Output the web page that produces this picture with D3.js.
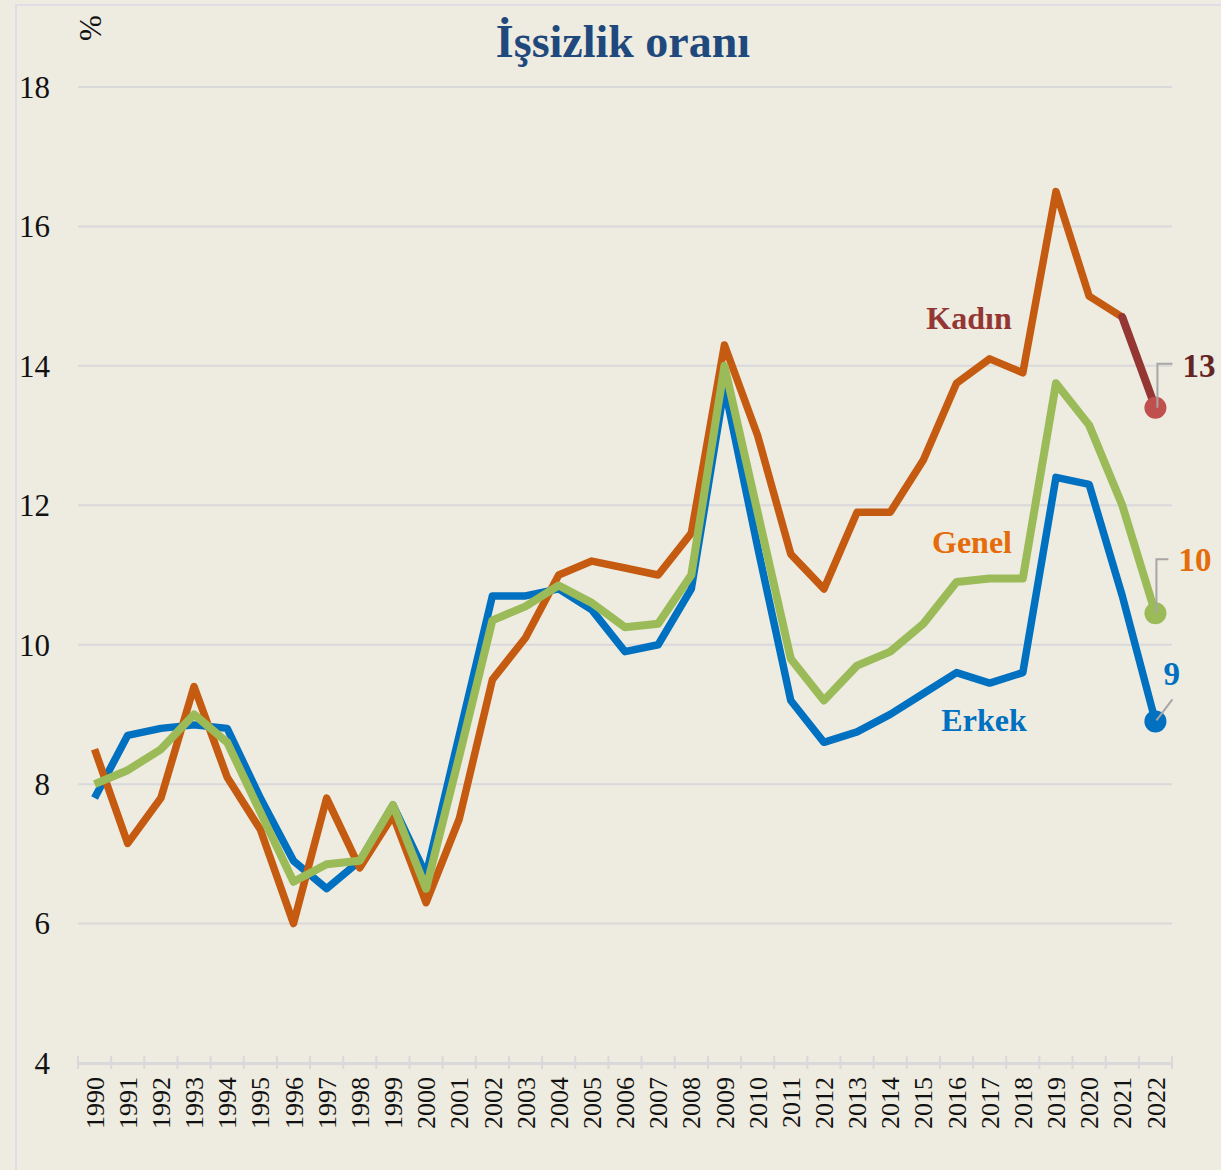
<!DOCTYPE html>
<html>
<head>
<meta charset="utf-8">
<script src="https://cdn.jsdelivr.net/npm/d3@7"></script>
<style>
  body { margin: 0; background: #EEEBE0; }
  svg { display: block; }
</style>
</head>
<body>
<script>
// unemployment rate, Turkey 1990-2022
var years = d3.range(1990, 2023);

var erkek = [7.8, 8.7, 8.8, 8.85, 8.8, 7.8, 6.9, 6.5, 6.9, 7.7, 6.7, 8.7, 10.7, 10.7, 10.8, 10.5, 9.9, 10.0, 10.8, 13.7,
             11.4, 9.2, 8.6, 8.75, 9.0, 9.3, 9.6, 9.45, 9.6, 12.4, 12.3, 10.7, 8.9];
var kadin = [8.5, 7.15, 7.8, 9.4, 8.1, 7.35, 6.0, 7.8, 6.8, 7.55, 6.3, 7.5, 9.5, 10.1, 11.0, 11.2, 11.1, 11.0, 11.6, 14.3,
             13.0, 11.3, 10.8, 11.9, 11.9, 12.65, 13.75, 14.1, 13.9, 16.5, 15.0, 14.7, 13.4];
var genel = [8.0, 8.2, 8.5, 9.0, 8.6, 7.6, 6.6, 6.85, 6.9, 7.7, 6.5, 8.4, 10.35, 10.55, 10.85, 10.6, 10.25, 10.3, 11.0, 14.0,
             11.9, 9.8, 9.2, 9.7, 9.9, 10.3, 10.9, 10.95, 10.95, 13.75, 13.15, 12.0, 10.45];

var yTicks = [4, 6, 8, 10, 12, 14, 16, 18];
var endLabels = ["13", "10", "9"];

var outerWidth = 1221,
    outerHeight = 1170;

var svg = d3.select("body")
    .append("svg")
    .attr("width", outerWidth)
    .attr("height", outerHeight);

// background + frame
svg.append("rect")
    .attr("width", outerWidth)
    .attr("height", outerHeight)
    .style("fill", "#EEEBE0");

svg.append("rect")
    .attr("x", 16)
    .attr("y", 5)
    .attr("width", 1230)
    .attr("height", 1200)
    .style("fill", "none")
    .style("stroke", "#E0DCE8")
    .style("stroke-width", 2);

var x = d3.scaleBand()
    .domain(years)
    .range([78, 1172]);

var y = d3.scaleLinear()
    .domain([4, 18])
    .range([1063, 87]);

function cx(yr) { return x(yr) + x.bandwidth() / 2; }

// gridlines
svg.selectAll(".grid")
    .data(yTicks.filter(function(d) { return d > 4; }))
    .enter().append("line")
    .attr("x1", 78)
    .attr("x2", 1172)
    .attr("y1", function(d) { return y(d); })
    .attr("y2", function(d) { return y(d); })
    .style("stroke", "#D9D8DA")
    .style("stroke-width", 2);

// y axis labels
svg.selectAll(".ylab")
    .data(yTicks)
    .enter().append("text")
    .attr("x", 50)
    .attr("y", function(d) { return y(d); })
    .attr("dy", "0.35em")
    .attr("text-anchor", "end")
    .attr("font-family", "Liberation Serif")
    .attr("font-size", "31px")
    .attr("fill", "#111")
    .text(function(d) { return d; });

// x axis
var xAxis = d3.axisBottom(x).tickSize(0).tickFormat(function(d) { return d; });
var gx = svg.append("g")
    .attr("transform", "translate(0,1063)")
    .call(xAxis);
gx.select(".domain").style("stroke", "#D9D8DA").style("stroke-width", 3);
gx.selectAll("text")
    .attr("transform", "rotate(-90)")
    .attr("x", -14)
    .attr("y", 0)
    .attr("dy", "0.35em")
    .attr("text-anchor", "end")
    .attr("font-family", "Liberation Serif")
    .attr("font-size", "26px")
    .attr("fill", "#111");

// tick marks at band edges
var edges = years.map(function(d) { return x(d); }).concat([x(2022) + x.bandwidth()]);
svg.selectAll(".tick-mark")
    .data(edges)
    .enter().append("line")
    .attr("x1", function(d) { return d; })
    .attr("x2", function(d) { return d; })
    .attr("y1", 1056)
    .attr("y2", 1069)
    .style("stroke", "#D9D8DA")
    .style("stroke-width", 2);

// lines
var line = d3.line()
    .x(function(d) { return cx(d.year); })
    .y(function(d) { return y(d.value); });

function series(vals) {
    return years.map(function(yr, i) { return { year: yr, value: vals[i] }; });
}

var erkekData = series(erkek),
    kadinData = series(kadin),
    genelData = series(genel);

svg.append("path")
    .datum(erkekData)
    .attr("d", line)
    .style("fill", "none")
    .style("stroke", "#0070C0")
    .style("stroke-width", 7.5)
    .style("stroke-linejoin", "round");

svg.append("path")
    .datum(kadinData.slice(0, 32))
    .attr("d", line)
    .style("fill", "none")
    .style("stroke", "#C55A11")
    .style("stroke-width", 7.5)
    .style("stroke-linejoin", "round");

svg.append("path")
    .datum(kadinData.slice(31))
    .attr("d", line)
    .style("fill", "none")
    .style("stroke", "#943634")
    .style("stroke-width", 8)
    .style("stroke-linecap", "round");

svg.append("path")
    .datum(genelData)
    .attr("d", line)
    .style("fill", "none")
    .style("stroke", "#9BBB59")
    .style("stroke-width", 8)
    .style("stroke-linejoin", "round");

// end dots
var last = years.length - 1;
var ends = [
    { value: kadin[last], dot: "#C0504D", label: endLabels[0], color: "#632523" },
    { value: genel[last], dot: "#9BBB59", label: endLabels[1], color: "#E46C0A" },
    { value: erkek[last], dot: "#0070C0", label: endLabels[2], color: "#0070C0" }
];

svg.selectAll(".enddot")
    .data(ends)
    .enter().append("circle")
    .attr("cx", cx(2022))
    .attr("cy", function(d) { return y(d.value); })
    .attr("r", 11)
    .style("fill", function(d) { return d.dot; });

// leader lines
var ex = cx(2022);
svg.append("path")
    .attr("d", "M" + (ex + 2) + "," + y(kadin[last]) + "V" + (y(kadin[last]) - 44) + "H" + (ex + 17))
    .style("fill", "none").style("stroke", "#A6A6A6").style("stroke-width", 2);
svg.append("path")
    .attr("d", "M" + (ex + 1) + "," + y(genel[last]) + "V" + (y(genel[last]) - 54) + "H" + (ex + 13))
    .style("fill", "none").style("stroke", "#A6A6A6").style("stroke-width", 2);
svg.append("path")
    .attr("d", "M" + (ex + 1) + "," + (y(erkek[last]) - 1) + "L" + (ex + 17) + "," + (y(erkek[last]) - 22))
    .style("fill", "none").style("stroke", "#A6A6A6").style("stroke-width", 2);

// end value labels
svg.append("text")
    .attr("x", ex + 27).attr("y", y(kadin[last]) - 31)
    .attr("font-family", "Liberation Serif").attr("font-weight", "700").attr("font-size", "33px")
    .attr("fill", ends[0].color).text(ends[0].label);
svg.append("text")
    .attr("x", ex + 23).attr("y", y(genel[last]) - 42)
    .attr("font-family", "Liberation Serif").attr("font-weight", "700").attr("font-size", "33px")
    .attr("fill", ends[1].color).text(ends[1].label);
svg.append("text")
    .attr("x", ex + 8).attr("y", y(erkek[last]) - 36)
    .attr("font-family", "Liberation Serif").attr("font-weight", "700").attr("font-size", "33px")
    .attr("fill", ends[2].color).text(ends[2].label);

// series names
svg.append("text")
    .attr("x", 969).attr("y", 329)
    .attr("text-anchor", "middle")
    .attr("font-family", "Liberation Serif").attr("font-weight", "700").attr("font-size", "32px")
    .attr("fill", "#943634").text("Kadın");
svg.append("text")
    .attr("x", 972).attr("y", 553)
    .attr("text-anchor", "middle")
    .attr("font-family", "Liberation Serif").attr("font-weight", "700").attr("font-size", "32px")
    .attr("fill", "#E46C0A").text("Genel");
svg.append("text")
    .attr("x", 984).attr("y", 731)
    .attr("text-anchor", "middle")
    .attr("font-family", "Liberation Serif").attr("font-weight", "700").attr("font-size", "32px")
    .attr("fill", "#0070C0").text("Erkek");

// title
svg.append("text")
    .attr("x", 623)
    .attr("y", 57)
    .attr("text-anchor", "middle")
    .attr("font-family", "Liberation Serif")
    .attr("font-weight", "700")
    .attr("font-size", "46px")
    .attr("fill", "#1F497D")
    .text("İşsizlik oranı");

// unit label
svg.append("text")
    .attr("transform", "translate(101,28) rotate(-90)")
    .attr("text-anchor", "middle")
    .attr("font-family", "Liberation Serif")
    .attr("font-size", "31px")
    .attr("fill", "#111")
    .text("%");
</script>
</body>
</html>
